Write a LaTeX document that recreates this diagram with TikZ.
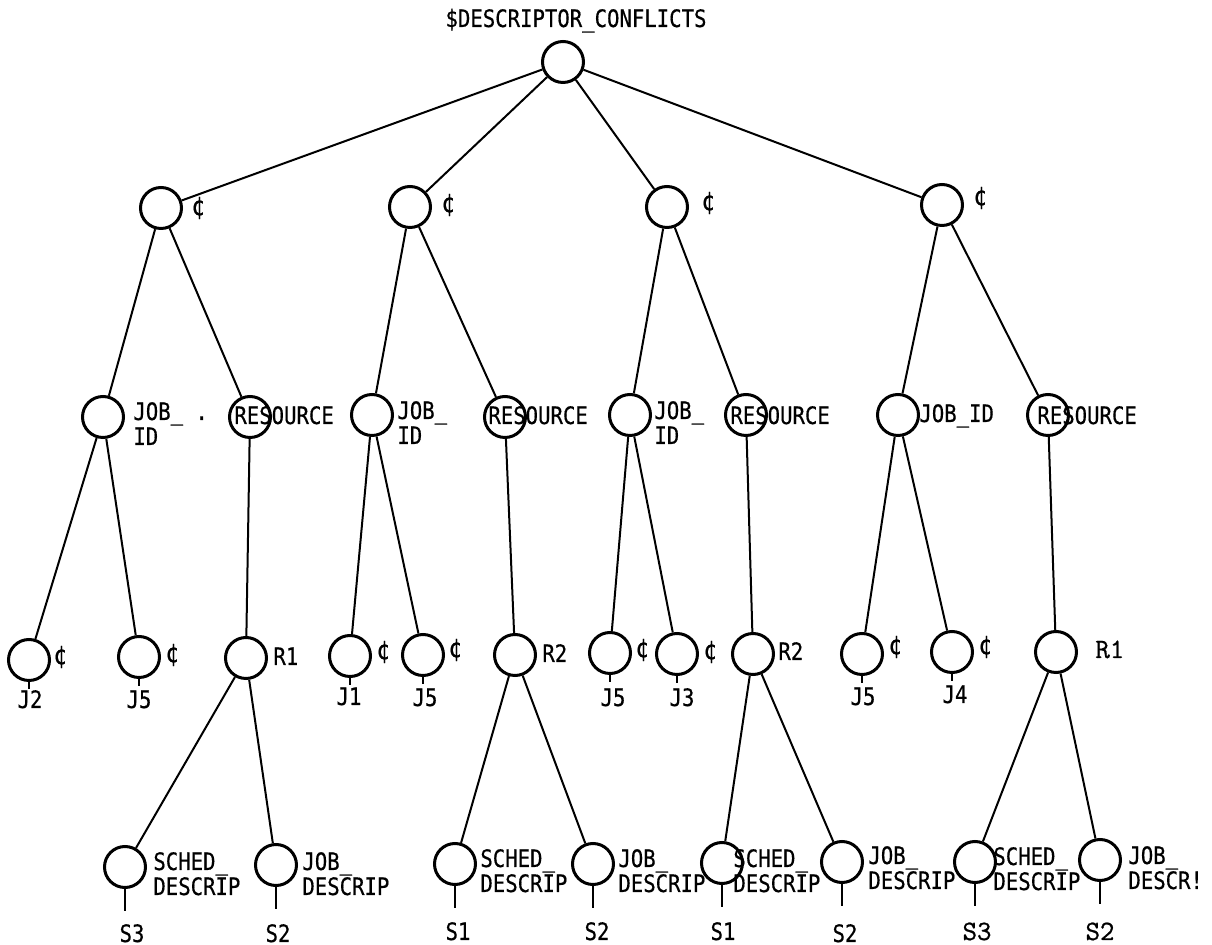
\documentclass[tikz,border=0pt]{standalone}
\usepackage{fontspec}
\newfontfamily\lpfont[FakeStretch=0.86,FakeBold=0.5]{DejaVu Sans Mono}
\newfontfamily\twfont[FakeBold=0.8]{Latin Modern Mono}
\begin{document}
\begin{tikzpicture}[x=0.5pt,y=-0.5pt,
  font=\lpfont\fontsize{12pt}{12.5pt}\selectfont,
  nd/.style={circle,draw,line width=1.5pt,minimum size=20.5pt,inner sep=0pt},
  edge/.style={line width=1pt},
  stub/.style={line width=1.2pt},
  lbl/.style={inner sep=0pt,anchor=base west,align=left},
  sub/.style={inner sep=0pt,anchor=base},
  cent/.style={inner sep=0pt,anchor=center,font=\lpfont\fontsize{13pt}{14pt}\selectfont},
  tw/.style={font=\twfont\fontsize{14pt}{15pt}\selectfont}]
\useasboundingbox (0,0) rectangle (1212,945);
% title and root
\node[sub] (title) at (576,27) {\$DESCRIPTOR\_CONFLICTS};
\node[nd] (root) at (563,62) {};
% level 1
\node[nd] (a) at (161,208) {};
\node[nd] (b) at (410,207) {};
\node[nd] (c) at (667,207) {};
\node[nd] (d) at (942,205) {};
\node[cent] (ca) at (198,208) {¢};
\node[cent] (cb) at (448,205) {¢};
\node[cent] (cc) at (708,203) {¢};
\node[cent] (cd) at (980,198) {¢};
% level 2
\node[nd] (ja) at (103,417) {};
\node[nd] (ra) at (250,417) {};
\node[nd] (jb) at (372,415) {};
\node[nd] (rb) at (505,417) {};
\node[nd] (jc) at (630,415) {};
\node[nd] (rc) at (746,415) {};
\node[nd] (jd) at (898,415) {};
\node[nd] (rd) at (1048,415) {};
\node[lbl] (tja) at (133,445) {JOB\_ .\\ID};
\node[lbl] (tjb) at (397,444) {JOB\_\\ID};
\node[lbl] (tjc) at (654,444) {JOB\_\\ID};
\node[lbl] (tjd) at (919,422) {JOB\_ID};
\node[lbl] (tra) at (234,424) {RESOURCE};
\node[lbl] (trb) at (488,424) {RESOURCE};
\node[lbl] (trc) at (730,424) {RESOURCE};
\node[lbl] (trd) at (1037,424) {RESOURCE};
% level 3
\node[nd] (j2a) at (29,660) {};
\node[nd] (j5a) at (139,657) {};
\node[nd] (r1a) at (246,658) {};
\node[nd] (j1b) at (350,656) {};
\node[nd] (j5b) at (423,655) {};
\node[nd] (r2b) at (515,655) {};
\node[nd] (j5c) at (610,653) {};
\node[nd] (j3c) at (677,654) {};
\node[nd] (r2c) at (753,654) {};
\node[nd] (j5d) at (862,654) {};
\node[nd] (j4d) at (952,652) {};
\node[nd] (r1d) at (1056,652) {};
\node[cent] (c1) at (60,657) {¢};
\node[cent] (c2) at (172,655) {¢};
\node[cent] (c3) at (383,652) {¢};
\node[cent] (c4) at (455,650) {¢};
\node[cent] (c5) at (642,650) {¢};
\node[cent] (c6) at (710,652) {¢};
\node[cent] (c7) at (895,647) {¢};
\node[cent] (c8) at (985,647) {¢};
\node[sub] (lj2a) at (30,708) {J2};
\node[sub] (lj5a) at (139,708) {J5};
\node[sub] (lj1b) at (349,705) {J1};
\node[sub] (lj5b) at (425,706) {J5};
\node[sub] (lj5c) at (613,706) {J5};
\node[sub] (lj3c) at (682,706) {J3};
\node[sub] (lj5d) at (863,705) {J5};
\node[sub] (lj4d) at (955,703) {J4};
\node[lbl] (lr1a) at (273,665) {R1};
\node[lbl] (lr2b) at (542,662) {R2};
\node[lbl] (lr2c) at (778,660) {R2};
\node[lbl,tw] (lr1d) at (1095,658) {R1};
% level 4
\node[nd] (sa) at (125,867) {};
\node[nd] (da) at (276,865) {};
\node[nd] (sb) at (455,864) {};
\node[nd] (db) at (593,864) {};
\node[nd] (sc) at (722,863) {};
\node[nd] (dc) at (842,862) {};
\node[nd] (sd) at (975,862) {};
\node[nd] (dd) at (1100,860) {};
\node[lbl] (tsa) at (153,895) {SCHED\_\\DESCRIP};
\node[lbl] (tda) at (302,895) {JOB\_\\DESCRIP};
\node[lbl] (tsb) at (480,892) {SCHED\_\\DESCRIP};
\node[lbl] (tdb) at (618,892) {JOB\_\\DESCRIP};
\node[lbl] (tsc) at (733,892) {SCHED\_\\DESCRIP};
\node[lbl] (tdc) at (868,889) {JOB\_\\DESCRIP};
\node[lbl] (tsd) at (993,890) {SCHED\_\\DESCRIP};
\node[lbl] (tdd) at (1128,889) {JOB\_\\DESCR!};
\node[sub] (lsa) at (132,942) {S3};
\node[sub] (lda) at (278,942) {S2};
\node[sub] (lsb) at (458,940) {S1};
\node[sub] (ldb) at (597,940) {S2};
\node[sub] (lsc) at (723,940) {S1};
\node[sub] (ldc) at (845,942) {S2};
\node[sub,tw] (lsd) at (977,940) {S3};
\node[sub,tw] (ldd) at (1100,940) {S2};
% edges
\draw[edge] (root) -- (a);
\draw[edge] (root) -- (b);
\draw[edge] (root) -- (c);
\draw[edge] (root) -- (d);
\draw[edge] (a) -- (ja);
\draw[edge] (a) -- (ra);
\draw[edge] (b) -- (jb);
\draw[edge] (b) -- (rb);
\draw[edge] (c) -- (jc);
\draw[edge] (c) -- (rc);
\draw[edge] (d) -- (jd);
\draw[edge] (d) -- (rd);
\draw[edge] (ja) -- (j2a);
\draw[edge] (ja) -- (j5a);
\draw[edge] (ra) -- (r1a);
\draw[edge] (jb) -- (j1b);
\draw[edge] (jb) -- (j5b);
\draw[edge] (rb) -- (r2b);
\draw[edge] (jc) -- (j5c);
\draw[edge] (jc) -- (j3c);
\draw[edge] (rc) -- (r2c);
\draw[edge] (jd) -- (j5d);
\draw[edge] (jd) -- (j4d);
\draw[edge] (rd) -- (r1d);
\draw[edge] (r1a) -- (sa);
\draw[edge] (r1a) -- (da);
\draw[edge] (r2b) -- (sb);
\draw[edge] (r2b) -- (db);
\draw[edge] (r2c) -- (sc);
\draw[edge] (r2c) -- (dc);
\draw[edge] (r1d) -- (sd);
\draw[edge] (r1d) -- (dd);
% stubs
\foreach \n in {j2a,j5a,j1b,j5b,j5c,j3c,j5d,j4d}
  \draw[stub] (\n.south) -- ++(0,7);
\foreach \n in {sa,da,sb,db,sc,dc,sd,dd}
  \draw[stub] (\n.south) -- ++(0,22);
\end{tikzpicture}
\end{document}
